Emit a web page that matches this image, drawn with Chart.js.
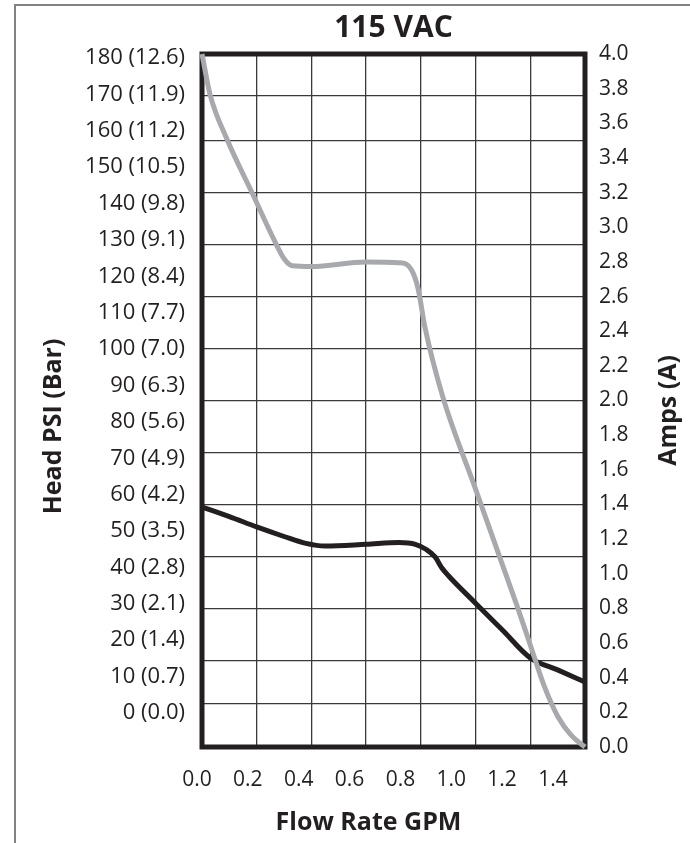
<!DOCTYPE html>
<html>
<head>
<meta charset="utf-8">
<title>115 VAC</title>
<script src="https://cdn.jsdelivr.net/npm/chart.js@4.4.1/dist/chart.umd.min.js"></script>
<style>
  html, body { margin: 0; padding: 0; background: #fff; }
  #wrap { position: relative; width: 690px; height: 843px; overflow: hidden; }
  #frame { position: absolute; left: 14px; top: 4px; right: -5px; bottom: -5px;
           border-top: 2px solid #808285; border-left: 2px solid #808285; }
  #chart { position: absolute; left: 0; top: 0; }
</style>
</head>
<body>
<div id="wrap">
  <div id="frame"></div>
  <canvas id="chart" width="690" height="843"></canvas>
</div>
<script>
// data
const headFlow = [0, 0.029, 0.091, 0.186, 0.267, 0.3, 0.33, 0.4, 0.6, 0.72, 0.765, 0.79, 0.815, 0.88, 1.0, 1.1, 1.15, 1.2, 1.25, 1.3, 1.35, 1.4];
const headPsi  = [180, 169.6, 157.9, 143.5, 131.2, 126.8, 125, 124.8, 126, 125.8, 124, 119, 109, 91, 67, 47, 37, 26.5, 16, 8, 3, 0];

const ampFlow = [0, 0.1, 0.2, 0.3, 0.38, 0.45, 0.6, 0.72, 0.78, 0.82, 0.852, 0.877, 0.9, 1.0, 1.1, 1.2, 1.3, 1.4];
const ampsA   = [1.385, 1.33, 1.27, 1.215, 1.175, 1.16, 1.17, 1.18, 1.17, 1.14, 1.097, 1.033, 0.99, 0.83, 0.672, 0.514, 0.445, 0.375];

// tick labels
const flowTicks = [0, 0.2, 0.4, 0.6, 0.8, 1.0, 1.2, 1.4];
const psiTicks  = [0, 10, 20, 30, 40, 50, 60, 70, 80, 90, 100, 110, 120, 130, 140, 150, 160, 170, 180];
const barTicks  = ['0.0', '0.7', '1.4', '2.1', '2.8', '3.5', '4.2', '4.9', '5.6', '6.3', '7.0', '7.7', '8.4', '9.1', '9.8', '10.5', '11.2', '11.9', '12.6'];
const ampTicks  = [0, 0.2, 0.4, 0.6, 0.8, 1.0, 1.2, 1.4, 1.6, 1.8, 2.0, 2.2, 2.4, 2.6, 2.8, 3.0, 3.2, 3.4, 3.6, 3.8, 4.0];
// horizontal rules of the sheet, in amps
const gridAmps  = [0.25, 0.5, 0.8, 1.1, 1.4, 1.7, 2.0, 2.3, 2.6, 2.9, 3.2, 3.5, 3.76];

const INK = '#231f20';
const GREY = '#a7a9ac';
const FONT = 'Open Sans';

// thick frame round the plot, drawn under the curves
const plotFrame = {
  id: 'plotFrame',
  beforeDatasetsDraw(chart) {
    const { ctx, chartArea: a } = chart;
    ctx.save();
    ctx.strokeStyle = INK;
    ctx.lineWidth = 5;
    ctx.strokeRect(a.left, a.top, a.right - a.left, a.bottom - a.top);
    ctx.restore();
  }
};

// axis titles (both side titles read bottom to top)
function drawText(ctx, text, x, y, rot) {
  ctx.save();
  ctx.translate(x, y);
  ctx.rotate(rot);
  ctx.fillText(text, 0, 0);
  ctx.restore();
}
const axisTitles = {
  id: 'axisTitles',
  afterDraw(chart) {
    const { ctx, chartArea: a } = chart;
    const mid = (a.top + a.bottom) / 2;
    ctx.save();
    ctx.fillStyle = INK;
    ctx.font = `bold 25px "${FONT}"`;
    ctx.textAlign = 'center';
    ctx.textBaseline = 'middle';
    drawText(ctx, 'Head PSI (Bar)', 54, mid + 26, -Math.PI / 2);
    drawText(ctx, 'Amps (A)', chart.scales.y1.right - 21, mid + 10, -Math.PI / 2);
    drawText(ctx, 'Flow Rate GPM', (a.left + a.right) / 2 - 25, chart.scales.xl.bottom - 14, 0);
    ctx.restore();
  }
};

const ctx = document.getElementById('chart').getContext('2d');

new Chart(ctx, {
  type: 'line',
  data: {
    datasets: [
      {
        label: 'Head PSI',
        data: headFlow.map((x, i) => ({ x: x, y: headPsi[i] })),
        xAxisID: 'x',
        yAxisID: 'y',
        borderColor: GREY,
        borderWidth: 5,
        pointRadius: 0,
        cubicInterpolationMode: 'monotone',
        clip: 6
      },
      {
        label: 'Amps',
        data: ampFlow.map((x, i) => ({ x: x, y: ampsA[i] })),
        xAxisID: 'x',
        yAxisID: 'y1',
        borderColor: INK,
        borderWidth: 5,
        pointRadius: 0,
        cubicInterpolationMode: 'monotone',
        clip: 6
      }
    ]
  },
  options: {
    responsive: false,
    animation: false,
    devicePixelRatio: 1,
    layout: { padding: { left: 14, top: 4, right: 0, bottom: 6 } },
    plugins: {
      legend: { display: false },
      tooltip: { enabled: false },
      title: {
        display: true,
        text: '115 VAC',
        fullSize: false,
        color: INK,
        font: { family: FONT, size: 30, weight: 'bold' },
        padding: { top: 6, bottom: 8 }
      }
    },
    scales: {
      // plotting axes
      x: {
        type: 'linear', min: 0, max: 1.4, position: 'bottom', weight: 0,
        ticks: { display: false, stepSize: 0.2 },
        grid: { color: '#3a3a3a', lineWidth: 1.3, drawTicks: false },
        border: { display: false },
        afterFit(s) { s.height = 0; }
      },
      y: {
        type: 'linear', min: 0, max: 180, display: false
      },
      // horizontal rules
      yg: {
        type: 'linear', min: 0, max: 4, position: 'left', weight: 0,
        afterBuildTicks(s) { s.ticks = gridAmps.map(v => ({ value: v })); },
        ticks: { display: false },
        grid: { color: '#3a3a3a', lineWidth: 1.3, drawTicks: false },
        border: { display: false },
        afterFit(s) { s.width = 0; }
      },
      // label axes
      xl: {
        type: 'linear', min: 0.0197, max: 1.526, position: 'bottom', weight: 1,
        afterBuildTicks(s) { s.ticks = flowTicks.map(v => ({ value: v })); },
        ticks: {
          color: INK, padding: 12, maxRotation: 0, autoSkip: false,
          font: { family: FONT, size: 21 },
          callback: v => Number(v).toFixed(1)
        },
        grid: { display: false },
        border: { display: false },
        afterFit(s) { s.height = 90; }
      },
      yl: {
        type: 'linear', min: -9.34, max: 181.1, position: 'left', weight: 1,
        afterBuildTicks(s) { s.ticks = psiTicks.map(v => ({ value: v })); },
        ticks: {
          color: INK, padding: 9, autoSkip: false,
          font: { family: FONT, size: 22 },
          callback: v => v + ' (' + barTicks[psiTicks.indexOf(v)] + ')'
        },
        grid: { display: false },
        border: { display: false },
        afterFit(s) { s.width = 188; }
      },
      y1: {
        type: 'linear', min: 0, max: 4, position: 'right',
        afterBuildTicks(s) { s.ticks = ampTicks.map(v => ({ value: v })); },
        ticks: {
          color: INK, padding: 6, autoSkip: false,
          font: { family: FONT, size: 21 },
          callback: v => Number(v).toFixed(1)
        },
        grid: { display: false },
        border: { display: false },
        afterFit(s) { s.width = 105; }
      }
    }
  },
  plugins: [plotFrame, axisTitles]
});
</script>
</body>
</html>
